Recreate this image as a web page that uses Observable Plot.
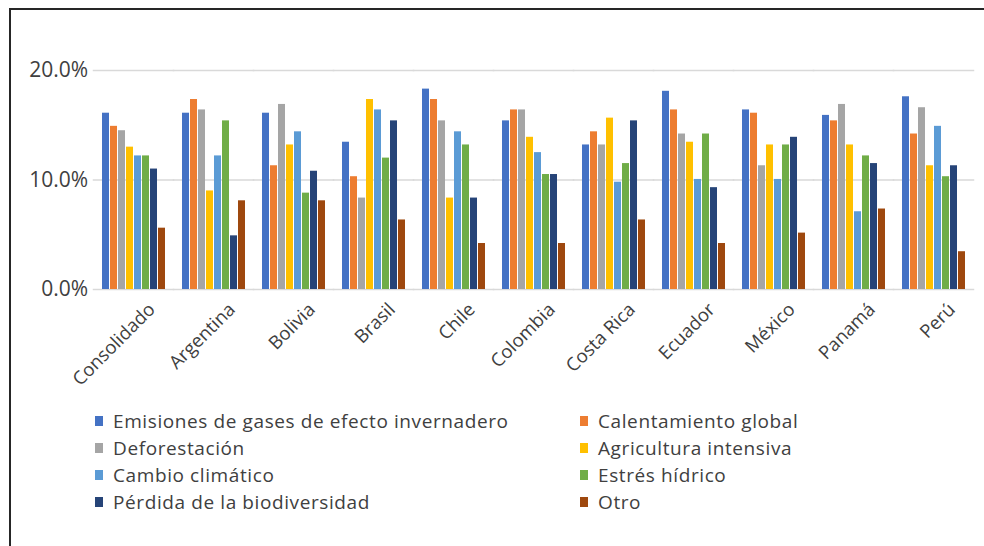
<!DOCTYPE html>
<html>
<head>
<meta charset="utf-8">
<script src="https://cdn.jsdelivr.net/npm/d3@7"></script>
<script src="https://cdn.jsdelivr.net/npm/@observablehq/plot@0.6"></script>
<style>
  html, body { margin: 0; padding: 0; background: #fff; overflow: hidden; }
  body { width: 984px; height: 546px; position: relative; font-family: "Open Sans", sans-serif; }
  #frame { position: absolute; left: 9px; top: 8px; width: 990px; height: 560px; border-left: 2px solid #262626; border-top: 2px solid #262626; }
  #chart { position: absolute; left: 0; top: 0; }
  #legend { position: absolute; left: 95px; top: 407px; display: grid; grid-template-columns: 485px 300px; row-gap: 0; color: #404040; font-size: 19px; letter-spacing: 0.6px; }
  .item { display: flex; align-items: center; height: 27px; white-space: nowrap; }
  .sw { width: 8px; height: 10px; margin-right: 10px; flex: none; }
</style>
</head>
<body>
<div id="frame"></div>
<div id="chart"></div>
<div id="legend"></div>
<script>
const countries = ["Consolidado", "Argentina", "Bolivia", "Brasil", "Chile", "Colombia", "Costa Rica", "Ecuador", "México", "Panamá", "Perú"];
const series = ["Emisiones de gases de efecto invernadero", "Calentamiento global", "Deforestación", "Agricultura intensiva", "Cambio climático", "Estrés hídrico", "Pérdida de la biodiversidad", "Otro"];
const colors = ["#4472C4", "#ED7D31", "#A5A5A5", "#FFC000", "#5B9BD5", "#70AD47", "#264478", "#9E480E"];
const yTicks = [0, 10, 20];

const emisiones     = [16.1, 16.1, 16.1, 13.45, 18.3, 15.4, 13.2, 18.1, 16.4, 15.9, 17.6];
const calentamiento = [14.9, 17.35, 11.3, 10.3, 17.35, 16.4, 14.4, 16.4, 16.1, 15.4, 14.2];
const deforestacion = [14.5, 16.4, 16.9, 8.35, 15.4, 16.4, 13.2, 14.2, 11.3, 16.9, 16.6];
const agricultura   = [13.0, 9.0, 13.2, 17.35, 8.35, 13.9, 15.65, 13.45, 13.2, 13.2, 11.3];
const cambio        = [12.2, 12.2, 14.4, 16.4, 14.4, 12.5, 9.8, 10.05, 10.05, 7.1, 14.9];
const estres        = [12.2, 15.4, 8.8, 12.0, 13.2, 10.5, 11.5, 14.2, 13.2, 12.2, 10.3];
const perdida       = [11.0, 4.9, 10.8, 15.4, 8.35, 10.5, 15.4, 9.3, 13.9, 11.5, 11.3];
const otro          = [5.6, 8.1, 8.1, 6.35, 4.2, 4.2, 6.35, 4.2, 5.15, 7.35, 3.45];

const seriesValues = [emisiones, calentamiento, deforestacion, agricultura, cambio, estres, perdida, otro];
const data = [];
countries.forEach((c, i) => {
  series.forEach((s, j) => data.push({country: c, series: s, value: seriesValues[j][i]}));
});

const W = 984, ML = 92, MR = 9;
const pInner = 0.168, pOuter = 0.084;
const step = (W - ML - MR) / (countries.length - pInner + 2 * pOuter);
const halfGap = step * pInner / 2;

const chart = Plot.plot({
  width: W,
  height: 400,
  marginLeft: ML,
  marginRight: MR,
  marginTop: 70,
  marginBottom: 111,
  style: {fontFamily: "Open Sans", fontSize: "18px", color: "#404040", background: "transparent", overflow: "visible"},
  fx: {domain: countries, paddingInner: pInner, paddingOuter: pOuter, label: null, axis: null},
  x: {domain: series, paddingInner: 0.1, paddingOuter: 0, axis: null},
  y: {domain: [0, 20], label: null, axis: null},
  color: {domain: series, range: colors},
  marks: [
    Plot.ruleY(yTicks, {stroke: "#d9d9d9", strokeWidth: 1.5, insetLeft: -halfGap - 0.5, insetRight: -halfGap - 0.5}),
    Plot.barY(data, {fx: "country", x: "series", y: "value", fill: "series"}),
    Plot.axisY({ticks: yTicks, tickFormat: d => d.toFixed(1) + "%", tickSize: 0, tickPadding: 12.3, label: null, fontSize: 21, style: {letterSpacing: "2.7px"}}),
    Plot.axisFx({anchor: "bottom", tickRotate: -45, tickSize: 0, tickPadding: 17, label: null, fontSize: 18.5, dx: 18, style: {letterSpacing: "0.6px"}})
  ]
});
document.getElementById("chart").appendChild(chart);

const legend = document.getElementById("legend");
series.forEach((s, j) => {
  const item = document.createElement("div");
  item.className = "item";
  const sw = document.createElement("span");
  sw.className = "sw";
  sw.style.background = colors[j];
  const t = document.createElement("span");
  t.textContent = s;
  item.appendChild(sw);
  item.appendChild(t);
  legend.appendChild(item);
});
</script>
</body>
</html>
